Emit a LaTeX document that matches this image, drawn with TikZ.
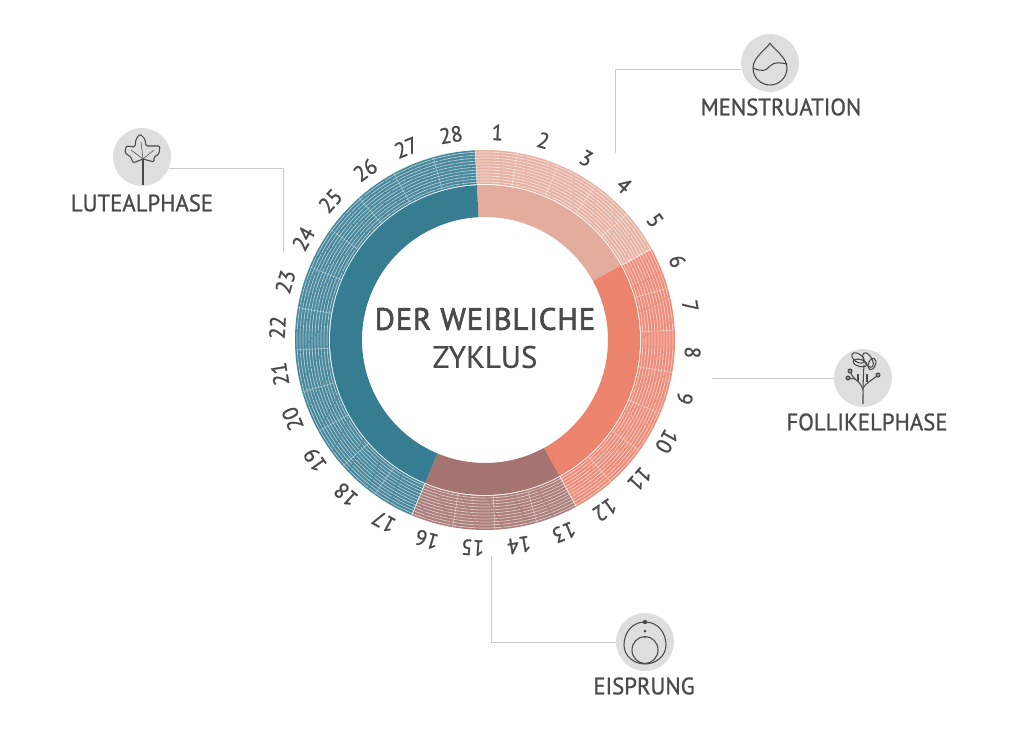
\documentclass[tikz,border=0pt]{standalone}
\usepackage{fontspec}
\setmainfont{PT Sans}
\newfontfamily\dinfont[FakeBold=1.0,FakeStretch=0.96]{PT Sans}
\newfontfamily\dinheavy[FakeBold=2.0,LetterSpace=2.3]{PT Sans}
\newfontfamily\dinlight[FakeBold=0.5]{PT Sans}
\usepackage{xcolor}
\usetikzlibrary{calc}
\definecolor{inktext}{HTML}{4A4A4A}
\definecolor{leader}{HTML}{CCCCCC}
\definecolor{iconfill}{HTML}{DEDEDE}
\definecolor{menscol}{HTML}{E4AC9D}
\definecolor{follcol}{HTML}{EC836D}
\definecolor{eicol}{HTML}{A57370}
\definecolor{lutcol}{HTML}{377D92}
\tikzset{
	icondisc/.style={circle,fill=iconfill,minimum size=1.16cm,inner sep=0pt},
	phaselabel/.style={text=inktext,font=\dinfont\fontsize{13.5}{16}\selectfont},
	daylabel/.style={text=inktext,font=\dinfont\fontsize{12.5}{14}\selectfont,inner sep=0pt},
	leaderline/.style={draw=leader,line width=0.5pt},
	iconline/.style={draw=inktext,line width=0.6pt,line join=round}
}
\begin{document}
\begin{tikzpicture}[x=0.02cm,y=0.02cm]
	\useasboundingbox (-485,-394) rectangle (539,340);
	\foreach \s/\e/\c in {0/5/menscol,5/12/follcol,12/16/eicol,16/28/lutcol}{
		\pgfmathsetmacro{\a}{93-\s*12.857}
		\pgfmathsetmacro{\b}{93-\e*12.857}
		\fill[\c] (\a:123) arc (\a:\b:123) -- (\b:155) arc (\b:\a:155) -- cycle;
		\fill[\c!92!white] (\a:156) arc (\a:\b:156) -- (\b:190) arc (\b:\a:190) -- cycle;
		\foreach \r in {158,161,...,189}{
			\draw[white,opacity=0.6,line width=0.4pt,dash pattern=on 14pt off 0.6pt] (\a:\r) arc (\a:\b:\r);
		}
		\draw[white,opacity=0.8,line width=0.3pt] (\a:156) -- (\a:190);
	}
	\foreach \d in {0,...,27}{
		\pgfmathsetmacro{\a}{93-\d*12.857}
		\draw[white,opacity=0.5,line width=0.3pt] (\a:156) -- (\a:190);
	}
	\foreach \d in {1,...,28}{
		\pgfmathsetmacro{\c}{-3+(\d-0.5)*12.857}
		\node[daylabel,rotate=-\c] (day\d) at ({90-\c}:208) {\d};
	}
	\node[text=inktext,font=\dinheavy\fontsize{17.6}{22}\selectfont] (titleA) at (0,21) {DER WEIBLICHE};
	\node[text=inktext,font=\dinlight\fontsize{17.6}{22}\selectfont] (titleB) at (0,-17) {ZYKLUS};

	\node[icondisc] (iconDrop) at (285,277) {};
	\node[icondisc] (iconLeaf) at (-343,183) {};
	\node[icondisc] (iconFlower) at (378,-38) {};
	\node[icondisc] (iconOvum) at (160,-302) {};

	\node[phaselabel] (labelMens) at (296,233) {MENSTRUATION};
	\node[phaselabel] (labelLut) at (-343,137) {LUTEALPHASE};
	\node[phaselabel] (labelFoll) at (382,-82) {FOLLIKELPHASE};
	\node[phaselabel] (labelEi) at (159,-346) {EISPRUNG};

	\coordinate (endMens) at (130,187);
	\coordinate (endLut) at (-202,87);
	\coordinate (endFoll) at (227,-38);
	\coordinate (endEi) at (6,-216);
	\draw[leaderline] (iconDrop.192) -| (endMens);
	\draw[leaderline] (iconLeaf.-22) -| (endLut);
	\draw[leaderline] (iconFlower.west) -- (endFoll);
	\draw[leaderline] (iconOvum.west) -| (endEi);

	\begin{scope}[shift={(iconDrop.center)}]
		\draw[iconline] (0,20) .. controls (-4,13) and (-17,6) .. (-17,-5) arc (180:360:17) .. controls (17,6) and (4,13) .. (0,20);
		\draw[iconline] (-17,-5) .. controls (-8,-9) and (-4,-8) .. (0,-3) .. controls (5,2) and (11,0) .. (17,-1);
	\end{scope}
	\begin{scope}[shift={(iconLeaf.center)}]
		\draw[iconline] (1,-28) -- (1,-2);
		\draw[iconline,rounded corners=0.8pt] (1,-2) -- (-9,-6) -- (-11,0) -- (-17,4) -- (-16,11) -- (-7,10) -- (-6,18) -- (-2,23) -- (3,18) -- (4,11) -- (18,11) -- (17,3) -- (12,0) -- (12,-5) -- cycle;
		\draw[iconline,line width=0.3pt] (1,-2) -- (-1,15);
		\draw[iconline,line width=0.3pt] (1,-2) -- (-11,7);
		\draw[iconline,line width=0.3pt] (1,-2) -- (12,7);
	\end{scope}
	\begin{scope}[shift={(iconFlower.center)}]
		\draw[iconline] (0,-26) .. controls (0,-15) and (0,-2) .. (1,13);
		\draw[iconline] (0,-12) .. controls (-1,-6) and (-6,-3) .. (-9,0) .. controls (-11,2) and (-12,4) .. (-13,7);
		\draw[iconline] (-8,-1) -- (-15,0);
		\draw[iconline] (0,-10) .. controls (3,-5) and (8,-3) .. (15,3);
		\draw[iconline] (-5,4) -- (-5,-3);
		\draw[iconline] (4,4) -- (4,-4);
		\draw[iconline,rotate around={-35:(-5,20)}] (-5,20) ellipse (7 and 4);
		\draw[iconline,rotate around={-60:(5,18)}] (5,18) ellipse (8 and 4);
		\draw[iconline,rotate around={-15:(-3,15)}] (-3,15) ellipse (7 and 3.5);
		\draw[iconline,rotate around={70:(9,14)}] (9,14) ellipse (6 and 3.5);
		\draw[iconline,fill=inktext!50!iconfill] (-13,7) circle (2);
		\draw[iconline,fill=inktext!50!iconfill] (-15,0) circle (2);
		\draw[iconline,fill=inktext!50!iconfill] (15,3) circle (2);
	\end{scope}
	\begin{scope}[shift={(iconOvum.center)}]
		\draw[iconline] (0,20) .. controls (-14,20) and (-21,8) .. (-21,-3) .. controls (-21,-14) and (-11,-22) .. (0,-22) .. controls (11,-22) and (21,-14) .. (21,-3) .. controls (21,8) and (14,20) .. (0,20);
		\draw[iconline] (0,-8) ellipse (13 and 13.5);
		\fill[inktext] (0,20) circle (2.2);
		\fill[inktext] (0,11) circle (1.5);
		\fill[inktext] (0,5) circle (1.1);
	\end{scope}
\end{tikzpicture}
\end{document}
